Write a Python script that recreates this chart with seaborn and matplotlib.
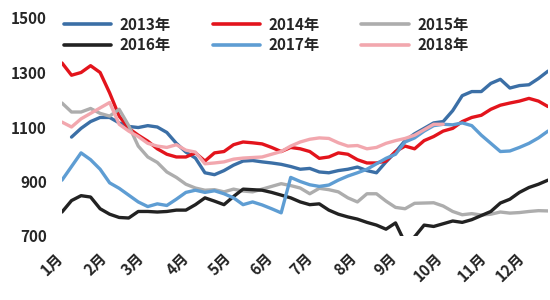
import numpy as np
import pandas as pd
import matplotlib
matplotlib.use("Agg")
import matplotlib.pyplot as plt
import matplotlib.transforms as mtransforms
import seaborn as sns
from matplotlib.lines import Line2D

nan = np.nan
y2013 = [nan, 1063, 1095, 1120, 1135, 1135, 1115, 1102, 1098, 1105, 1100, 1080, 1040, 1008, 986, 932,
         925, 940, 960, 975, 977, 972, 968, 963, 955, 945, 948, 935, 932, 940, 945, 953, 940, 932,
         972, 1008, 1050, 1075, 1095, 1115, 1120, 1160, 1215, 1230, 1230, 1260, 1275, 1243, 1252,
         1255, 1278, 1305]
y2014 = [1335, 1290, 1300, 1325, 1300, 1225, 1140, 1095, 1070, 1048, 1020, 1000, 990, 990, 1005, 975,
         1005, 1010, 1035, 1045, 1042, 1038, 1025, 1010, 1025, 1020, 1010, 985, 990, 1005, 1000, 980,
         968, 968, 975, 1010, 1030, 1020, 1050, 1065, 1085, 1095, 1120, 1135, 1143, 1165, 1180, 1188,
         1195, 1205, 1195, 1175]
y2015 = [1188, 1155, 1155, 1168, 1150, 1140, 1165, 1105, 1030, 990, 970, 935, 915, 890, 876, 868,
         870, 862, 872, 865, 862, 872, 882, 892, 885, 876, 855, 875, 870, 862, 840, 825, 855, 855,
         828, 805, 800, 820, 821, 822, 810, 790, 778, 782, 777, 780, 788, 784, 786, 790, 793, 792]
y2016 = [788, 830, 848, 843, 800, 780, 768, 766, 790, 790, 788, 790, 795, 795, 815, 840, 828, 815,
         845, 872, 870, 868, 860, 850, 840, 825, 815, 818, 795, 780, 770, 762, 750, 740, 725, 748,
         675, 697, 740, 735, 745, 755, 750, 760, 775, 790, 821, 835, 860, 878, 890, 905]
y2017 = [905, 955, 1005, 980, 945, 895, 875, 850, 825, 808, 818, 812, 835, 860, 868, 860, 866, 855,
         840, 815, 825, 814, 800, 785, 915, 900, 888, 882, 887, 905, 920, 932, 945, 965, 985, 1000,
         1045, 1060, 1085, 1105, 1110, 1108, 1115, 1105, 1070, 1040, 1010, 1012, 1025, 1040, 1060, 1085]
y2018 = [1118, 1100, 1130, 1150, 1170, 1190, 1110, 1085, 1065, 1040, 1030, 1025, 1035, 1015, 1008,
         965, 968, 972, 982, 986, 988, 990, 1000, 1010, 1030, 1045, 1055, 1060, 1058, 1042, 1030,
         1032, 1020, 1025, 1040, 1050, 1058, 1070, 1090, 1110, 1110] + [nan] * 11

years = ["2013年", "2014年", "2015年", "2016年", "2017年", "2018年"]
series = [y2013, y2014, y2015, y2016, y2017, y2018]
months = ["1月", "2月", "3月", "4月", "5月", "6月", "7月", "8月", "9月", "10月", "11月", "12月"]
month_pos = [0, 4.6, 8.5, 13.2, 17.6, 22.0, 26.2, 30.8, 35.0, 39.8, 44.4, 48.4]
yticks = [700, 900, 1100, 1300, 1500]

colors = ["#3b6fa6", "#e3141c", "#adadad", "#222222", "#5e9dd3", "#f2a7ae"]

rows = []
for name, vals in zip(years, series):
    for i, v in enumerate(vals):
        rows.append({"week": i, "value": v, "year": name})
df = pd.DataFrame(rows)

sns.set_style("white")
plt.rcParams['font.family'] = ['Noto Sans CJK SC', 'DejaVu Sans']

fig = plt.figure(figsize=(5.5, 3.0), dpi=100)
ax = fig.add_axes([62 / 550, 1 - 236 / 300, 486 / 550, 218 / 300])

sns.lineplot(data=df, x="week", y="value", hue="year", hue_order=years,
             palette=colors, linewidth=2.4, ax=ax, legend=False)

ax.set_xlim(0, 51)
ax.set_ylim(700, 1500)
ax.set_yticks(yticks)
ax.set_yticklabels([str(t) for t in yticks], fontsize=11, fontweight='bold')
ax.set_xticks(month_pos)
ax.set_xticklabels(months, fontsize=11, fontweight='bold', rotation=45,
                   ha='right', va='top', rotation_mode='anchor')
ax.tick_params(axis='y', length=0, pad=11)
ax.tick_params(axis='x', length=0, pad=10)
offset = mtransforms.ScaledTranslation(-7 / 100, 0, fig.dpi_scale_trans)
for lbl in ax.get_xticklabels():
    lbl.set_transform(lbl.get_transform() + offset)
ax.set_xlabel("")
ax.set_ylabel("")
for s in ax.spines.values():
    s.set_visible(False)

order = [0, 3, 1, 4, 2, 5]
handles = [Line2D([0], [0], color=colors[i], lw=2.6) for i in range(6)]
leg = fig.legend([handles[i] for i in order], [years[i] for i in order],
                 ncol=3, loc='upper left', bbox_to_anchor=(56 / 550, 1 - 9 / 300),
                 frameon=False, borderpad=0, handlelength=3.1, handletextpad=0.55,
                 columnspacing=2.75, labelspacing=0.3,
                 prop={'size': 11, 'weight': 'bold'})

fig.savefig("out.png", dpi=100, facecolor="white")
